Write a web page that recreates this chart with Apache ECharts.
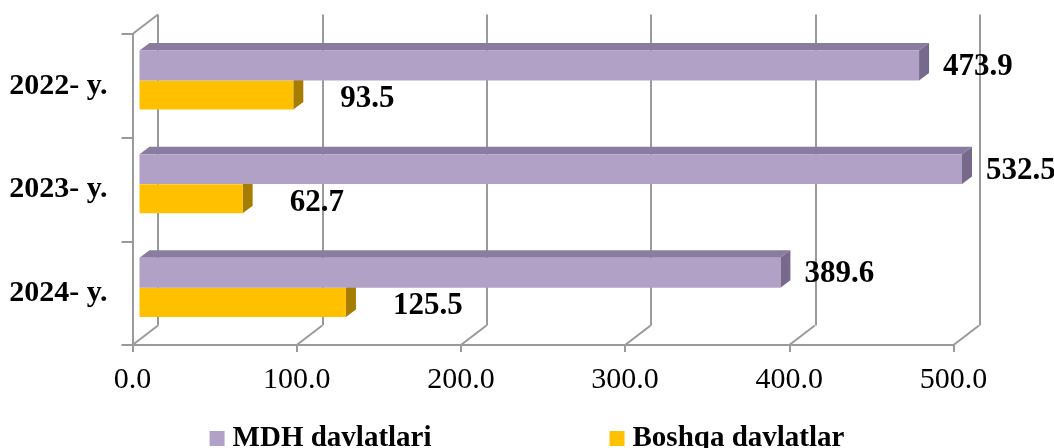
<!DOCTYPE html>
<html>
<head>
<meta charset="utf-8">
<script src="https://cdn.jsdelivr.net/npm/echarts@6/dist/echarts.min.js"></script>
<style>
  html, body { margin: 0; padding: 0; background: #ffffff; }
  #chart { width: 1054px; height: 448px; }
</style>
</head>
<body>
<div id="chart"></div>
<script>
// Eksport hajmi: MDH davlatlari va boshqa davlatlar
const years = ['2022- y.', '2023- y.', '2024- y.'];
const mdhValues = [473.9, 532.5, 389.6];
const otherValues = [93.5, 62.7, 125.5];
const seriesNames = ['MDH davlatlari', 'Boshqa davlatlar'];
const valueTicks = [0, 100, 200, 300, 400, 500];

const FONT = '"Liberation Serif", "Times New Roman", serif';
const GRID_LINE = '#9a9a9a';

// depth of the 3-D box (front plane -> back wall) and of a single bar
const WALL_DX = 25.5, WALL_DY = -19.5;
const BAR_DX = 10, BAR_DY = -7.5;

const chart = echarts.init(document.getElementById('chart'));

// front plane of the box (axes), back wall, and the plane holding the bar faces
const frontGrid = { left: 132.5, top: 34, width: 821, height: 311 };
const backGrid = { left: frontGrid.left + WALL_DX, top: frontGrid.top + WALL_DY, width: 822, height: 311 };
const barGrid = { left: 139.5, top: 28.7, width: 822.5, height: 311 };

const valueAxisBase = { type: 'value', min: 0, max: 500, interval: 100 };

function hiddenValueAxis(gridIndex, extra) {
  return Object.assign({}, valueAxisBase, {
    gridIndex,
    axisLine: { show: false },
    axisTick: { show: false },
    axisLabel: { show: false },
    splitLine: { show: false }
  }, extra || {});
}

function hiddenCategoryAxis(gridIndex) {
  return {
    type: 'category', data: years, inverse: true, gridIndex,
    axisLine: { show: false }, axisTick: { show: false },
    axisLabel: { show: false }, splitLine: { show: false }
  };
}

// floor edges running from the front axis ticks back to the wall, plus the top-left edge
function renderBoxEdges(params, api) {
  const cs = params.coordSys;
  const x = api.coord([api.value(0), 0])[0];
  const yb = cs.y + cs.height;
  const style = { stroke: GRID_LINE, lineWidth: 2 };
  const children = [{
    type: 'line',
    shape: { x1: x, y1: yb, x2: x + WALL_DX, y2: yb + WALL_DY },
    style
  }];
  if (params.dataIndex === 0) {
    children.push({
      type: 'line',
      shape: { x1: cs.x, y1: cs.y, x2: cs.x + WALL_DX, y2: cs.y + WALL_DY },
      style
    });
  }
  return { type: 'group', children };
}

// one 3-D bar: front face, top face, side face and value label
function barRenderer(opt) {
  return function (params, api) {
    const v = api.value(0);
    const i = api.value(1);
    const cs = params.coordSys;
    const band = api.size([0, 1])[1];
    const start = api.coord([0, i]);
    const end = api.coord([v, i]);
    const x0 = start[0];
    const x1 = Math.min(end[0], cs.x + cs.width);
    const top = end[1] + band * opt.offset;
    const h = band * opt.thickness;
    const children = [];
    if (opt.topColor) {
      children.push({
        type: 'polygon',
        shape: { points: [[x0, top], [x0 + BAR_DX, top + BAR_DY], [x1 + BAR_DX, top + BAR_DY], [x1, top]] },
        style: { fill: opt.topColor }
      });
    }
    children.push({
      type: 'polygon',
      shape: { points: [[x1, top], [x1 + BAR_DX, top + BAR_DY], [x1 + BAR_DX, top + h + BAR_DY], [x1, top + h]] },
      style: { fill: opt.sideColor }
    });
    children.push({
      type: 'rect',
      shape: { x: x0, y: top, width: x1 - x0, height: h },
      style: { fill: opt.color }
    });
    children.push({
      type: 'text',
      x: x1 + opt.labelGap,
      y: top + h / 2 + opt.labelDy,
      style: {
        text: v.toFixed(1),
        fill: '#000000',
        font: 'bold 31px ' + FONT,
        verticalAlign: 'middle',
        align: 'left'
      },
      z2: 10
    });
    return { type: 'group', children };
  };
}

const option = {
  backgroundColor: '#ffffff',
  animation: false,
  grid: [
    Object.assign({ containLabel: false }, frontGrid),
    Object.assign({ containLabel: false }, backGrid),
    Object.assign({ containLabel: false }, barGrid)
  ],
  xAxis: [
    Object.assign({}, valueAxisBase, {
      gridIndex: 0,
      axisLine: { show: true, lineStyle: { color: GRID_LINE, width: 2 } },
      axisTick: { show: true, length: 7, lineStyle: { color: GRID_LINE, width: 2 } },
      axisLabel: {
        margin: 20, color: '#000000', fontSize: 30, fontFamily: FONT,
        formatter: v => v.toFixed(1)
      },
      splitLine: { show: false }
    }),
    hiddenValueAxis(1, {
      splitLine: { show: true, showMinLine: true, showMaxLine: true, lineStyle: { color: GRID_LINE, width: 2 } }
    }),
    hiddenValueAxis(2)
  ],
  yAxis: [
    {
      type: 'category', data: years, inverse: true, gridIndex: 0,
      axisLine: { show: true, lineStyle: { color: GRID_LINE, width: 2 } },
      axisTick: { show: true, length: 11, lineStyle: { color: GRID_LINE, width: 2 } },
      axisLabel: { margin: 25, color: '#000000', fontSize: 30, fontWeight: 'bold', fontFamily: FONT },
      splitLine: { show: false }
    },
    hiddenCategoryAxis(1),
    hiddenCategoryAxis(2)
  ],
  legend: {
    data: seriesNames,
    left: 'center',
    top: 419,
    icon: 'rect',
    itemWidth: 15,
    itemHeight: 15,
    itemGap: 178,
    textStyle: { color: '#000000', fontSize: 29, fontWeight: 'bold', fontFamily: FONT, padding: [0, 0, 0, 3] }
  },
  series: [
    {
      type: 'custom',
      name: 'box',
      xAxisIndex: 0, yAxisIndex: 0,
      silent: true,
      z: 1,
      data: valueTicks.map(v => [v, 0]),
      encode: { x: 0, y: 1 },
      renderItem: renderBoxEdges
    },
    {
      type: 'custom',
      name: seriesNames[1],
      xAxisIndex: 2, yAxisIndex: 2,
      z: 3,
      itemStyle: { color: '#FFC000' },
      data: otherValues.map((v, i) => [v, i]),
      encode: { x: 0, y: 1 },
      renderItem: barRenderer({
        color: '#FFC000', sideColor: '#A67D00', topColor: null,
        offset: 0, thickness: 0.28, labelGap: 47, labelDy: 4
      })
    },
    {
      type: 'custom',
      name: seriesNames[0],
      xAxisIndex: 2, yAxisIndex: 2,
      z: 4,
      itemStyle: { color: '#B2A1C7' },
      data: mdhValues.map((v, i) => [v, i]),
      encode: { x: 0, y: 1 },
      renderItem: barRenderer({
        color: '#B2A1C7', sideColor: '#77698B', topColor: '#897C9E',
        offset: -0.29, thickness: 0.289, labelGap: 24, labelDy: 1.5
      })
    }
  ]
};

chart.setOption(option);
</script>
</body>
</html>
